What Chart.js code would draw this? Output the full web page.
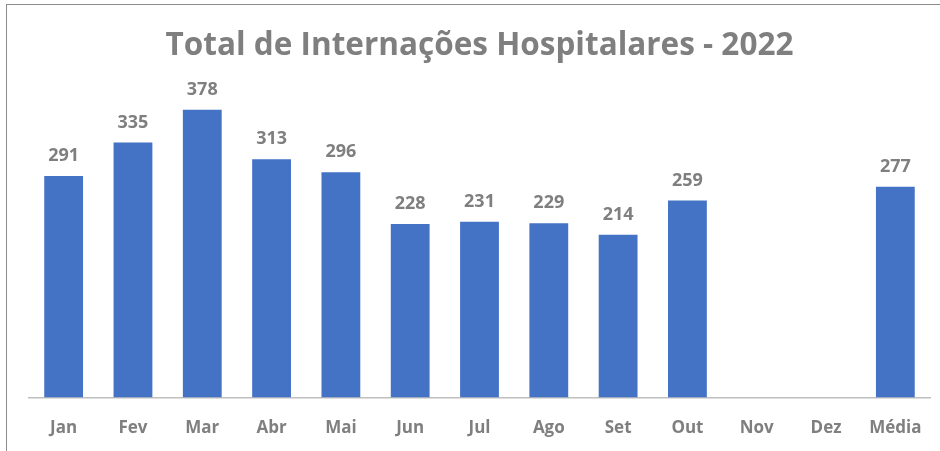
<!DOCTYPE html>
<html>
<head>
<meta charset="utf-8">
<script src="https://cdn.jsdelivr.net/npm/chart.js@4"></script>
<style>
  html, body { margin: 0; padding: 0; background: #fff; }
  #wrap { position: relative; width: 940px; height: 451px; }
  #frame { position: absolute; left: 6px; top: 4px; right: 0; bottom: 0; border-top: 1px solid #8c8c8c; border-left: 1px solid #8c8c8c; pointer-events: none; }
  canvas { position: absolute; left: 0; top: 0; }
</style>
</head>
<body>
<div id="wrap">
  <canvas id="cInternacoes" width="940" height="451"></canvas>
  <div id="frame"></div>
</div>
<script>
const meses    = ['Jan','Fev','Mar','Abr','Mai','Jun','Jul','Ago','Set','Out','Nov','Dez','Média'];
const valores  = [291, 335, 378, 313, 296, 228, 231, 229, 214, 259, null, null, 277];
const titulo   = 'Total de Internações Hospitalares - 2022';

const FONT = "'Open Sans', 'Noto Sans', sans-serif";
const CINZA = '#7f7f7f';

// rótulos de valor em cima das barras
const rotulos = {
  id: 'rotulos',
  afterDatasetsDraw(chart) {
    const { ctx } = chart;
    const meta = chart.getDatasetMeta(0);
    ctx.save();
    ctx.font = `bold 18px ${FONT}`;
    ctx.fillStyle = CINZA;
    ctx.textAlign = 'center';
    ctx.textBaseline = 'bottom';
    meta.data.forEach((bar, i) => {
      const v = valores[i];
      if (v == null) return;
      ctx.fillText(String(v), bar.x, bar.y - 11);
    });
    ctx.restore();
  },
};

new Chart(document.getElementById('cInternacoes'), {
  type: 'bar',
  data: {
    labels: meses,
    datasets: [{ data: valores, backgroundColor: '#4472c4', borderWidth: 0, categoryPercentage: 1, barPercentage: 0.56 }],
  },
  options: {
    responsive: false, animation: false,
    layout: { padding: { left: 29, right: 10, top: 0, bottom: 1 } },
    plugins: {
      legend: { display: false },
      tooltip: { enabled: false },
      title: { display: true, text: titulo, color: CINZA, font: { family: FONT, size: 31.5, weight: 'bold' }, padding: { top: 27, bottom: 10 } },
    },
    scales: {
      x: {
        grid: { display: false },
        border: { color: '#bfbfbf', width: 1.5 },
        ticks: { color: CINZA, font: { family: FONT, size: 17, weight: 'bold' }, padding: 12 },
      },
      y: { display: false, min: 0, max: 424 },
    },
  },
  plugins: [rotulos],
});
</script>
</body>
</html>
